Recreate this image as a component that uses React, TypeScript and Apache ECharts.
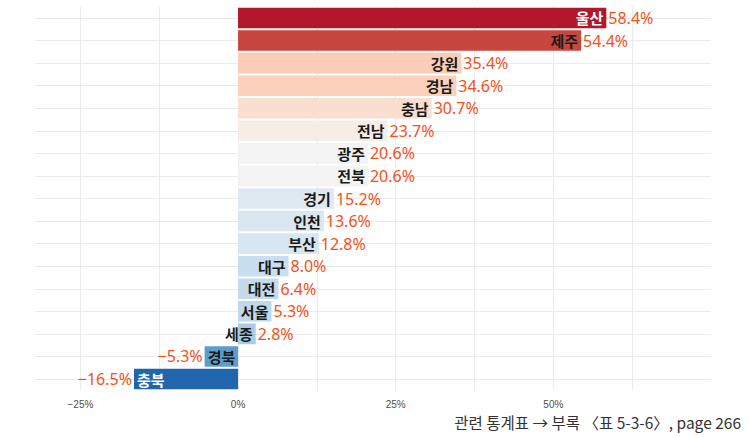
import { useEffect, useRef } from "react";
import * as echarts from "echarts";

const categories = ["울산", "제주", "강원", "경남", "충남", "전남", "광주", "전북", "경기", "인천", "부산", "대구", "대전", "서울", "세종", "경북", "충북"];
const values = [58.4, 54.4, 35.4, 34.6, 30.7, 23.7, 20.6, 20.6, 15.2, 13.6, 12.8, 8.0, 6.4, 5.3, 2.8, -5.3, -16.5];
const barColors = ["#B2182B", "#C7463E", "#FBCDB6", "#FBD1BB", "#FADED0", "#F6EDE8", "#F3F3F3", "#F3F3F3", "#DFE9F2", "#DAE7F1", "#D8E6F1", "#C9DEEE", "#C5DBED", "#C0D8EB", "#A9CBE3", "#5C9DCB", "#2166AC"];
const nameColors = ["#FFFFFF", "#1A1A1A", "#1A1A1A", "#1A1A1A", "#1A1A1A", "#1A1A1A", "#1A1A1A", "#1A1A1A", "#1A1A1A", "#1A1A1A", "#1A1A1A", "#1A1A1A", "#1A1A1A", "#1A1A1A", "#1A1A1A", "#1A1A1A", "#FFFFFF"];
const gridTickValues = [-25, -12.5, 0, 12.5, 25, 37.5, 50, 62.5];
const axisLabelValues = [-25, 0, 25, 50];
const footnote = "관련 통계표 → 부록 〈표 5-3-6〉, page 266";

const fmtPct = (v: number, digits: number) => {
  const s = Math.abs(v).toFixed(digits) + "%";
  return v < 0 ? "\u2212" + s : s;
};

export default function App() {
  const ref = useRef<HTMLDivElement>(null);
  useEffect(() => {
    if (!ref.current) return;
    const chart = echarts.init(ref.current, null, { renderer: "svg" });
    const korFont = "'Noto Sans CJK KR', 'Noto Sans', sans-serif";
    const numFont = "'Noto Sans', 'Liberation Sans', Arial, sans-serif";
    chart.setOption({
      animation: false,
      backgroundColor: "#FFFFFF",
      grid: { left: 35, right: 39, top: 6.7, bottom: 47.7, containLabel: false, outerBoundsMode: "none" },
      xAxis: {
        type: "value",
        min: -32.2,
        max: 75,
        axisLine: { show: false },
        axisTick: { show: false, customValues: gridTickValues },
        splitLine: { show: true, lineStyle: { color: "#EBEBEB", width: 1 } },
        axisLabel: {
          customValues: axisLabelValues,
          formatter: (v: number) => fmtPct(v, 0),
          color: "#4D4D4D",
          fontSize: 10,
          fontFamily: "'Liberation Sans', Arial, sans-serif",
          margin: 9,
        },
      },
      yAxis: {
        type: "category",
        data: categories,
        inverse: true,
        axisLine: { show: false },
        axisTick: { show: false },
        axisLabel: { show: false },
        splitLine: { show: false },
      },
      series: [
        {
          type: "bar",
          z: 2,
          barCategoryGap: "9%",
          data: values.map((v, i) => ({
            value: v,
            itemStyle: { color: barColors[i] },
            label: {
              show: true,
              position: v >= 0 ? "insideRight" : "insideLeft",
              distance: 3,
              formatter: categories[i],
              color: nameColors[i],
              fontWeight: "bold",
              fontSize: 15,
              fontFamily: korFont,
            },
          })),
          markLine: {
            silent: true,
            z: 1,
            symbol: "none",
            label: { show: false },
            lineStyle: { color: "#EBEBEB", type: "solid", width: 1 },
            data: categories.map((c) => ({ yAxis: c })),
          },
        },
        {
          type: "bar",
          z: 3,
          barGap: "-100%",
          barCategoryGap: "9%",
          itemStyle: { color: "rgba(0,0,0,0)" },
          data: values.map((v) => ({
            value: v,
            label: {
              show: true,
              position: v >= 0 ? "right" : "left",
              distance: 2,
              formatter: fmtPct(v, 1),
              color: "#F0521E",
              fontSize: 16,
              fontFamily: numFont,
            },
          })),
        },
      ],
      graphic: [
        {
          type: "text",
          right: 9,
          top: 414,
          style: {
            text: footnote,
            fill: "#333333",
            fontSize: 15.5,
            fontFamily: korFont,
          },
        },
      ],
    });
    return () => chart.dispose();
  }, []);
  return <div ref={ref} style={{ position: "fixed", left: 0, top: 0, width: 750, height: 438 }} />;
}
